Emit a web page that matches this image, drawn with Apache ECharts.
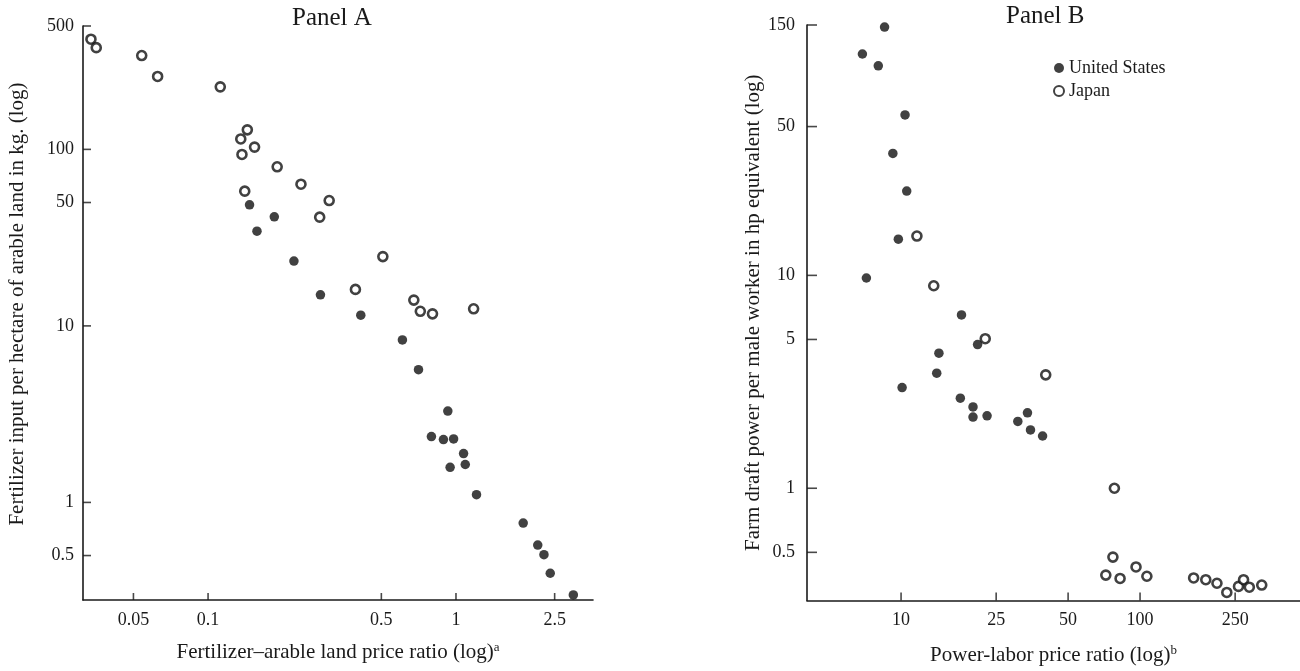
<!DOCTYPE html>
<html lang="en" style="height: 100%">
<head>
  <meta charset="utf-8">
</head>
<body style="height: 100%; margin: 0; background: #fff">
  <div id="container" style="width: 1300px; height: 671px"></div>
  <script type="text/javascript" src="https://cdn.jsdelivr.net/npm/echarts@6/dist/echarts.min.js"></script>
  <script type="text/javascript">
    // Panel A: fertilizer-arable land price ratio vs fertilizer input per hectare
    var fertUS = [
      [0.147, 48.5], [0.185, 41.5], [0.1575, 34.4], [0.222, 23.3], [0.284, 15.0],
      [0.413, 11.5], [0.608, 8.33], [0.706, 5.65], [0.927, 3.29], [0.796, 2.36],
      [0.89, 2.27], [0.978, 2.29], [1.073, 1.89], [1.09, 1.64], [0.947, 1.58],
      [1.21, 1.106], [1.867, 0.764], [2.137, 0.573], [2.264, 0.506], [2.4, 0.397],
      [2.974, 0.299]
    ];
    var fertJapan = [
      [0.0337, 421], [0.0354, 377], [0.054, 340], [0.0626, 259], [0.112, 226],
      [0.144, 129], [0.1355, 114.6], [0.154, 103], [0.137, 93.6], [0.19, 79.7],
      [0.237, 63.5], [0.1406, 58], [0.282, 41.3], [0.308, 51.3], [0.507, 24.7],
      [0.393, 16.1], [0.676, 14.0], [0.718, 12.1], [0.804, 11.7], [1.178, 12.5]
    ];
    var fertXTicks = [0.05, 0.1, 0.5, 1, 2.5];
    var fertYTicks = [0.5, 1, 10, 50, 100, 500];
    var fertXRange = [0.0313, 3.57];
    var fertYRange = [0.28, 500];

    // Panel B: power-labor price ratio vs draft power per male worker
    var powerUS = [
      [8.53, 146.7], [6.89, 109.6], [8.03, 96.5], [10.39, 56.7], [9.24, 37.4],
      [10.56, 24.9], [9.74, 14.8], [7.16, 9.72], [17.9, 6.52], [20.9, 4.73],
      [14.4, 4.31], [14.1, 3.47], [10.1, 2.97], [17.7, 2.65], [20.0, 2.41],
      [20.0, 2.16], [22.9, 2.19], [30.8, 2.06], [33.8, 2.26], [34.8, 1.88],
      [39.1, 1.76]
    ];
    var powerJapan = [
      [11.65, 15.3], [13.7, 8.94], [22.5, 5.04], [40.3, 3.41], [78.1, 1.0],
      [77.0, 0.475], [71.9, 0.391], [82.5, 0.377], [96.2, 0.427], [106.8, 0.386],
      [167.6, 0.379], [188.4, 0.372], [209.8, 0.358], [230.7, 0.324], [258.2, 0.346],
      [271.1, 0.372], [286.6, 0.343], [323, 0.351]
    ];
    var powerXTicks = [10, 25, 50, 100, 250];
    var powerYTicks = [0.5, 1, 5, 10, 50, 150];
    var powerXRange = [4.04, 467];
    var powerYRange = [0.297, 150];

    var FONT = '"Liberation Serif", "Times New Roman", serif';
    var INK = '#1a1a1a';

    function logAxis(gridIndex, range, ticks, extra) {
      var axis = {
        type: 'log',
        logBase: 10,
        gridIndex: gridIndex,
        min: range[0],
        max: range[1],
        axisLine: { show: true, lineStyle: { color: INK, width: 1.6 } },
        // tick marks are drawn by the tick series below
        axisTick: { show: false },
        axisLabel: { customValues: ticks, color: INK, fontFamily: FONT, fontSize: 18 },
        splitLine: { show: false },
        minorTick: { show: false },
        nameLocation: 'middle',
        nameTextStyle: { color: INK, fontFamily: FONT, fontSize: 21 }
      };
      for (var k in extra) axis[k] = extra[k];
      return axis;
    }

    // short inside tick marks, placed on the axes from the tick lists
    function tickSeries(gridIndex, xTicks, yTicks, xRange, yRange, xLen, yLen) {
      var style = { color: INK };
      return [
        {
          type: 'scatter', silent: true, xAxisIndex: gridIndex, yAxisIndex: gridIndex,
          symbol: 'rect', symbolSize: [1.6, xLen], symbolOffset: [0, -xLen / 2],
          itemStyle: style, z: 1,
          data: xTicks.map(function (v) { return [v, yRange[0]]; })
        },
        {
          type: 'scatter', silent: true, xAxisIndex: gridIndex, yAxisIndex: gridIndex,
          symbol: 'rect', symbolSize: [yLen, 1.6], symbolOffset: [yLen / 2, 0],
          itemStyle: style, z: 1,
          data: yTicks.map(function (v) { return [xRange[0], v]; })
        }
      ];
    }

    var supRich = {
      sup: { fontFamily: FONT, fontSize: 13, color: INK, verticalAlign: 'top', padding: [0, 0, 9, 0] }
    };

    var usStyle = { symbol: 'circle', symbolSize: 9.5, itemStyle: { color: '#111' } };
    var jpStyle = { symbol: 'circle', symbolSize: 9, itemStyle: { color: '#fff', borderColor: '#111', borderWidth: 2.6 } };

    var myChart = echarts.init(document.getElementById('container'), null, { renderer: 'canvas' });

    var option = {
      animation: false,
      backgroundColor: '#fff',
      title: [
        { text: 'Panel A', left: 292, top: 6, padding: 0, textStyle: { fontFamily: FONT, fontSize: 25, fontWeight: 'normal', color: INK } },
        { text: 'Panel B', left: 1006, top: 4, padding: 0, textStyle: { fontFamily: FONT, fontSize: 25, fontWeight: 'normal', color: INK } }
      ],
      legend: {
        orient: 'vertical',
        left: 1048,
        top: 54,
        itemWidth: 10,
        itemHeight: 10,
        itemGap: 5,
        textStyle: { fontFamily: FONT, fontSize: 18, color: INK },
        data: ['United States', 'Japan']
      },
      grid: [
        { left: 83, top: 26, width: 510, height: 574 },
        { left: 807, top: 25, width: 493, height: 576 }
      ],
      xAxis: [
        logAxis(0, fertXRange, fertXTicks, {
          name: 'Fertilizer\u2013arable land price ratio (log){sup|a}',
          nameGap: 41,
          nameTextStyle: { color: INK, fontFamily: FONT, fontSize: 21, rich: supRich },
          axisLabel: { customValues: fertXTicks, color: INK, fontFamily: FONT, fontSize: 18, margin: 11 }
        }),
        logAxis(1, powerXRange, powerXTicks, {
          name: 'Power-labor price ratio (log){sup|b}',
          nameGap: 44,
          nameTextStyle: { color: INK, fontFamily: FONT, fontSize: 21, rich: supRich },
          axisLabel: { customValues: powerXTicks, color: INK, fontFamily: FONT, fontSize: 18, margin: 11 }
        })
      ],
      yAxis: [
        logAxis(0, fertYRange, fertYTicks, {
          name: 'Fertilizer input per hectare of arable land in kg. (log)',
          nameGap: 55,
          nameTextStyle: { color: INK, fontFamily: FONT, fontSize: 21, padding: [0, 0, 0, 18] },
          axisLabel: { customValues: fertYTicks, color: INK, fontFamily: FONT, fontSize: 18, margin: 9 }
        }),
        logAxis(1, powerYRange, powerYTicks, {
          name: 'Farm draft power per male worker in hp equivalent (log)',
          nameGap: 34,
          axisLabel: { customValues: powerYTicks, color: INK, fontFamily: FONT, fontSize: 18, margin: 12 }
        })
      ],
      series: [
        Object.assign({ name: 'United States', type: 'scatter', xAxisIndex: 0, yAxisIndex: 0, data: fertUS }, usStyle),
        Object.assign({ name: 'Japan', type: 'scatter', xAxisIndex: 0, yAxisIndex: 0, data: fertJapan }, jpStyle),
        Object.assign({ name: 'United States', type: 'scatter', xAxisIndex: 1, yAxisIndex: 1, data: powerUS }, usStyle),
        Object.assign({ name: 'Japan', type: 'scatter', xAxisIndex: 1, yAxisIndex: 1, data: powerJapan }, jpStyle)
      ]
        .concat(tickSeries(0, fertXTicks, fertYTicks, fertXRange, fertYRange, 7, 8))
        .concat(tickSeries(1, powerXTicks, powerYTicks, powerXRange, powerYRange, 8, 10))
    };

    myChart.setOption(option);
    window.addEventListener('resize', myChart.resize);
  </script>
</body>
</html>
